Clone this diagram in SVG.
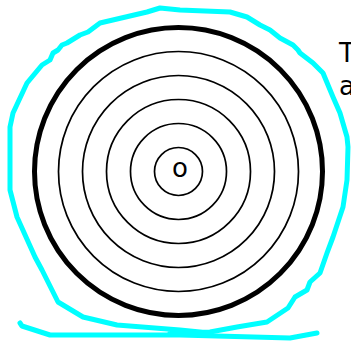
<svg xmlns="http://www.w3.org/2000/svg" width="351" height="345" viewBox="0 0 351 345">
<style>
.ring{fill:none;stroke:#000;stroke-width:1.7}
.outer{fill:none;stroke:#000;stroke-width:5}
.ink{fill:none;stroke:#00ffff;stroke-width:5;stroke-linecap:round;stroke-linejoin:round}
.t{font-family:"DejaVu Sans",sans-serif;font-size:26px;fill:#000}
</style>
<rect width="351" height="345" fill="#fff"/>
<g id="rings">
<circle class="outer" cx="178.5" cy="171.5" r="144"/>
<circle class="ring" cx="178.5" cy="171.5" r="120"/>
<circle class="ring" cx="178.5" cy="171.5" r="96"/>
<circle class="ring" cx="178.5" cy="171.5" r="72"/>
<circle class="ring" cx="178.5" cy="171.5" r="48"/>
<circle class="ring" cx="178.5" cy="171.5" r="24"/>
</g>
<g id="center-label"><text class="t" x="180" y="177" text-anchor="middle">o</text></g>
<g id="side-label"><text class="t" x="339" y="62">T</text><text class="t" x="339" y="95">a</text></g>
<g id="connectors">
<path class="ink" d="M170,333 L210,332 L237,327 L267,322 L288,308 L295,297 L307,290 L310,282 L320,273 L327,253 L333,237 L343,207 L347,180 L348,147 L347,137 L340,113 L333,97 L323,73 L313,63 L300,53 L298,50 L293,45 L280,38 L270,30 L260,25 L247,17 L230,12 L180,10 L160,8 L147,12 L100,23 L88,32 L80,35 L67,43 L62,45 L58,50 L53,53 L50,60 L42,65 L27,83 L13,113 L10,127 L10,190 L17,217 L35,257 L42,270 L58,302 L83,317 L117,325 L180,330 L210,333"/>
<path class="ink" d="M20,323 L22,326 L50,335 L180,335 L290,338 L317,333"/>
</g>
</svg>
